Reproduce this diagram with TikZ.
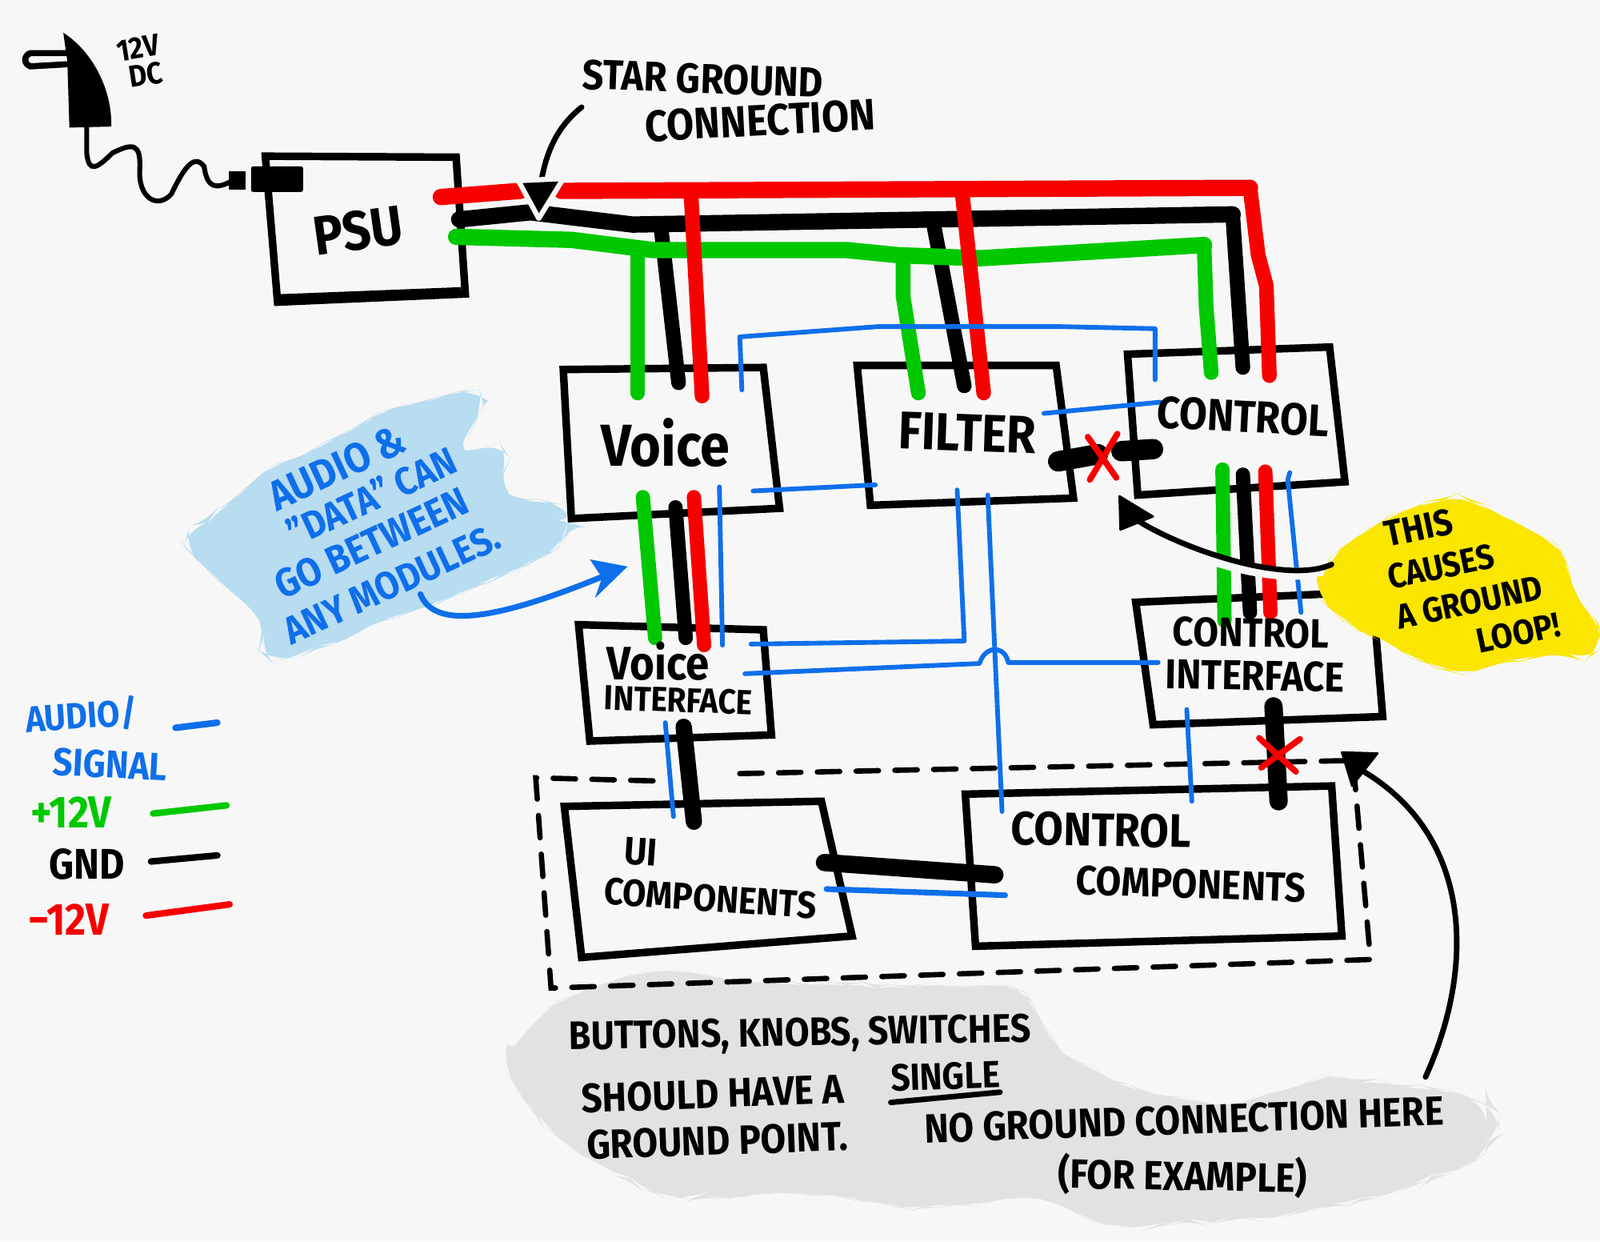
\documentclass[tikz,border=0pt]{standalone}
\usepackage{fontspec}
\setmainfont{Fira Sans}[FakeStretch=0.9,UprightFont=*,BoldFont=* Bold]
\usetikzlibrary{decorations.pathmorphing}
\definecolor{bgc}{HTML}{F7F7F7}
\definecolor{wred}{HTML}{F60000}
\definecolor{wgreen}{HTML}{00C800}
\definecolor{wblue}{HTML}{0F6FEA}
\definecolor{blobblue}{HTML}{B8DCF0}
\definecolor{blobyellow}{HTML}{FAE600}
\definecolor{blobgrey}{HTML}{E2E2E2}
\tikzset{
  x=0.5pt,y=-0.5pt,
  hand/.style={inner sep=0,outer sep=0,font=\bfseries\fontsize{#1}{#1}\selectfont,text=black,align=center},
  handb/.style={hand=#1,text=wblue},
  box/.style={draw=black,line width=3.7pt,line join=miter},
  wire/.style={line width=8pt,line cap=round,line join=round},
  drop/.style={line width=7.2pt,line cap=round,line join=round},
  link/.style={line width=7pt,line cap=round,line join=round},
  thin wire/.style={line width=2.3pt,line cap=round,line join=round,draw=wblue},
  crossx/.style={draw=wred,line width=3pt,line cap=round},
  blob/.style={rounded corners=10pt,decorate,decoration={random steps,segment length=7pt,amplitude=1.6pt}},
  pen/.style={draw=black,line width=2.7pt,line cap=round},
}
\begin{document}
\begin{tikzpicture}
\useasboundingbox (0,0) rectangle (1568,1216);
\fill[bgc] (0,0) rectangle (1568,1216);
% brush blobs
\fill[blobgrey,blob] (490,1040)--(540,985)--(630,950)--(780,965)--(1000,965)--(1040,1030)--(1100,1065)--(1200,1085)--(1300,1055)--(1440,1070)--(1472,1095)--(1450,1135)--(1380,1165)--(1270,1190)--(1085,1203)--(1020,1172)--(900,1185)--(780,1168)--(660,1175)--(590,1145)--(530,1100)--cycle;
\fill[blobblue,blob] (470,378)--(474,405)--(440,448)--(495,433)--(492,482)--(558,497)--(555,532)--(500,562)--(420,592)--(262,652)--(255,605)--(195,552)--(178,530)--(260,462)--(380,402)--cycle;
% plug
\fill[black] (62,32) .. controls (90,50) and (108,85) .. (109,118) -- (109,124) -- (68,125) -- (66,60) -- cycle;
\draw[pen,line width=3pt] (65,52) -- (30,52) .. controls (23,54) and (23,63) .. (30,65) -- (65,63);
\draw[pen,line width=2.4pt] (85,124) -- (85,150) .. controls (87,170) and (95,165) .. (110,150) .. controls (130,140) and (138,140) .. (137,165) .. controls (135,195) and (155,205) .. (168,190) .. controls (180,165) and (190,150) .. (200,163) .. controls (203,185) and (212,185) .. (226,178);
\fill[black] (224,168) rectangle (241,186);
\fill[black,rounded corners=1pt] (246,163) rectangle (297,188);
% boxes
\draw[box] (260,153) -- (447,154) -- (456,288) -- (272,296) -- cycle;
\draw[box] (272,292) -- (452,285);
\draw[box] (552,362) -- (748,360) -- (764,498) -- (560,508) -- cycle;
\draw[box] (840,358) -- (1035,358) -- (1052,488) -- (853,495) -- cycle;
\draw[box] (1105,347) -- (1303,340) -- (1318,472) -- (1115,485) -- cycle;
\draw[box] (567,612) -- (748,617) -- (756,720) -- (578,726) -- cycle;
\draw[box] (1113,590) -- (1345,580) -- (1355,702) -- (1130,710) -- cycle;
\draw[box] (553,790) -- (805,785) -- (835,917) -- (570,938) -- cycle;
\draw[box] (946,778) -- (1305,770) -- (1315,917) -- (956,927) -- cycle;
% dashed group
\draw[draw=black,line width=2.6pt,dash pattern=on 11pt off 8pt,line cap=round] (640,765) -- (525,762) -- (540,968) -- (1343,940) -- (1326,745) -- (720,758);
% named wire ends
\coordinate (rBusA) at (432,193); \coordinate (rBusB) at (510,187);
\coordinate (rBusC) at (550,187); \coordinate (rBusD) at (1225,184);
\coordinate (rC) at (1244,368); \coordinate (rV) at (688,388); \coordinate (rF) at (964,385);
\coordinate (kBusA) at (450,215); \coordinate (kBusB) at (1208,210); \coordinate (kC) at (1218,360);
\coordinate (kV) at (665,375); \coordinate (kF) at (945,378);
\coordinate (gBusA) at (447,232); \coordinate (gBusB) at (1180,240); \coordinate (gC) at (1187,365);
\coordinate (gV) at (625,385); \coordinate (gF) at (900,385);
% bus wires
\draw[wire,draw=black] (kBusA) -- (520,208) -- (620,220) -- (kBusB);
\draw[drop,draw=black] (kBusB) -- (kC);
\draw[drop,draw=black] (648,225) -- (kV);
\draw[drop,draw=black] (915,220) -- (kF);
\draw[wire,draw=wgreen] (gBusA) -- (560,235) -- (640,245) -- (830,245) -- (880,250) -- (960,253) -- (gBusB);
\draw[drop,draw=wgreen] (gBusB) -- (1182,300) -- (gC);
\draw[drop,draw=wgreen] (625,245) -- (gV);
\draw[drop,draw=wgreen] (885,250) -- (885,290) -- (gF);
\draw[wire,draw=wred] (rBusA) -- (rBusB) (rBusC) -- (rBusD);
\draw[drop,draw=wred] (rBusD) -- (1233,250) -- (1241,280) -- (rC);
\draw[drop,draw=wred] (677,187) -- (rV);
\draw[drop,draw=wred] (943,190) -- (rF);
\draw[thin wire] (727,382) -- (725,330) -- (860,320) -- (1040,320) -- (1132,322) -- (1132,372);
% star arrow
\draw[pen] (570,105) .. controls (545,125) and (535,150) .. (530,180);
\fill[black,draw=bgc,line width=2.5pt,line join=round] (528,214) -- (508,177) -- (552,175) -- cycle;
% module links
\draw[link,draw=wgreen] (630,487) -- (642,625);
\draw[link,draw=black] (662,497) -- (672,625);
\draw[link,draw=wred] (680,487) -- (690,632);
\draw[thin wire] (705,477) -- (708,632);
\draw[thin wire] (738,481) -- (858,475);
\draw[thin wire] (938,480) -- (945,628) -- (736,631);
\draw[thin wire] (968,485) -- (982,795);
\draw[thin wire] (730,660) -- (960,650) .. controls (965,632) and (985,632) .. (988,649) -- (1135,649);
\draw[thin wire] (1023,405) -- (1137,394);
\draw[line width=10pt,draw=black,line cap=round] (1037,452) -- (1076,445);
\draw[line width=10pt,draw=black,line cap=round] (1099,442) -- (1130,440);
\draw[crossx] (1066,428) -- (1094,468) (1095,425) -- (1068,470);
% control to control interface
\draw[link,draw=wgreen] (1198,460) -- (1200,608);
\draw[link,draw=black] (1218,465) -- (1225,600);
\draw[link,draw=wred] (1240,462) -- (1245,600);
\draw[thin wire] (1264,463) -- (1262,470) -- (1275,600);
% yellow blob
\fill[blobyellow,blob] (1288,582)--(1310,540)--(1370,502)--(1432,485)--(1480,510)--(1530,535)--(1545,590)--(1568,610)--(1568,642)--(1500,642)--(1430,662)--(1352,628)--(1322,612)--cycle;
% loop arrow
\draw[draw=bgc,line width=6pt] (1290,560) .. controls (1235,570) and (1160,540) .. (1130,522);
\draw[pen] (1305,553) .. controls (1255,575) and (1140,530) .. (1108,505);
\fill[black,draw=black,line width=1pt,line join=round] (1097,486) -- (1130,506) -- (1098,519) -- cycle;
% control interface to components
\draw[thin wire] (1163,695) -- (1168,785);
\draw[line width=9pt,draw=black,line cap=round] (1248,692) -- (1253,785);
\draw[crossx] (1234,723) -- (1270,756) (1274,724) -- (1236,752);
% voice interface to UI
\draw[thin wire] (652,708) -- (660,800);
\draw[link,draw=black,line width=8pt] (670,712) -- (680,805);
\draw[link,draw=black,line width=8.5pt] (808,845) -- (975,857);
\draw[thin wire,line width=2.8pt] (810,871) -- (985,877);
% blue note arrow
\draw[draw=wblue,line width=2.8pt,line cap=round] (412,582) .. controls (425,615) and (480,610) .. (590,565);
\fill[wblue] (615,555) -- (578,548) -- (590,566) -- (583,586) -- cycle;
% big ground arrow
\draw[pen] (1397,1055) .. controls (1445,950) and (1445,820) .. (1335,755);
\fill[black,draw=black,line width=1pt,line join=round] (1315,737) -- (1350,738) -- (1325,770) -- cycle;
% texts
\node[hand=15,rotate=9] (t12v) at (135,47) {12V};
\node[hand=15,rotate=9] (tdc) at (143,73) {DC};
\node[hand=20.5,rotate=-2] (tstar) at (689,77) {STAR GROUND};
\node[hand=21.5,rotate=3] (tconn) at (745,118) {CONNECTION};
\node[hand=27,rotate=8] (tpsu) at (351,226) {PSU};
\node[hand=29] (tvoice) at (652,434) {Voice};
\node[hand=26,rotate=-2] (tfilter) at (948,424) {FILTER};
\node[hand=22,rotate=-3] (tcontrol) at (1218,408) {CONTROL};
\node[hand=23] (tvi1) at (645,648) {Voice};
\node[hand=17,rotate=-2] (tvi2) at (665,686) {INTERFACE};
\node[hand=20,rotate=-1] (tci1) at (1226,620) {CONTROL};
\node[hand=20.5,rotate=-1] (tci2) at (1230,662) {INTERFACE};
\node[hand=19,rotate=-4] (tui1) at (628,835) {UI};
\node[hand=18.5,rotate=-4] (tui2) at (696,880) {COMPONENTS};
\node[hand=23,rotate=-1] (tcc1) at (1079,813) {CONTROL};
\node[hand=20,rotate=-2] (tcc2) at (1167,866) {COMPONENTS};
\node[handb=20.5,rotate=25] (tb1) at (330,458) {AUDIO \&};
\node[handb=19,rotate=25] (tb2) at (364,486) {"DATA" CAN};
\node[handb=19.5,rotate=25] (tb3) at (364,532) {GO BETWEEN};
\node[handb=19,rotate=25] (tb4) at (384,572) {ANY MODULES.};
\node[hand=18,rotate=12] (ty1) at (1390,517) {THIS};
\node[hand=17,rotate=12] (ty2) at (1412,555) {CAUSES};
\node[hand=17,rotate=12] (ty3) at (1440,590) {A GROUND};
\node[hand=17,rotate=12] (ty4) at (1488,620) {LOOP!};
\node[hand=19.5,rotate=1,anchor=west] (tg1) at (558,1018) {BUTTONS, KNOBS, SWITCHES};
\node[hand=20,rotate=2,anchor=west] (tg2) at (570,1076) {SHOULD HAVE A};
\node[hand=18.5,rotate=2,anchor=west] (tg2b) at (873,1056) {SINGLE};
\draw[pen] (873,1080) -- (980,1070);
\node[hand=20,rotate=2,anchor=west] (tg3) at (575,1122) {GROUND POINT.};
\node[hand=20,rotate=2,anchor=west] (tg3b) at (906,1106) {NO GROUND CONNECTION HERE};
\node[hand=20,rotate=-1,anchor=west] (tg4) at (1037,1150) {(FOR EXAMPLE)};
\node[handb=18,rotate=4,anchor=west] (tl1) at (25,705) {AUDIO/};
\node[handb=19,rotate=-3,anchor=west] (tl2) at (52,746) {SIGNAL};
\node[hand=22,text=wgreen,anchor=west] (tl3) at (30,796) {+12V};
\node[hand=21,anchor=west] (tl4) at (48,847) {GND};
\node[hand=22,text=wred,anchor=west] (tl5) at (28,901) {−12V};
% legend strokes
\draw[line cap=round,line width=3.2pt,draw=wblue] (172,713) -- (213,708);
\draw[line cap=round,line width=3.2pt,draw=wgreen] (150,797) -- (222,789);
\draw[line cap=round,line width=3.2pt,draw=black] (148,844) -- (213,838);
\draw[line cap=round,line width=3.2pt,draw=wred] (143,897) -- (225,886);
\end{tikzpicture}
\end{document}
